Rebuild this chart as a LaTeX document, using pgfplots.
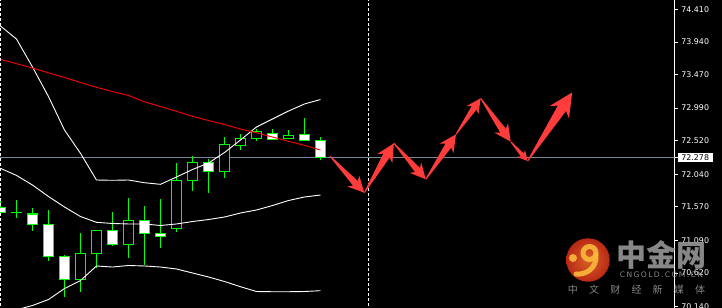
\documentclass[border=0pt]{standalone}
\usepackage{pgfplots}
\usepackage{pgfplotstable}
\pgfplotsset{compat=1.18}
\usetikzlibrary{decorations}
\usepackage{fontspec}
\setmainfont{DejaVu Sans}
\newfontfamily\cjk{Noto Sans CJK SC}
\newfontfamily\spaced[LetterSpace=18]{DejaVu Sans}

\definecolor{cgreen}{RGB}{0,255,0}
\definecolor{bidgray}{RGB}{119,136,153}
\definecolor{arrowred}{RGB}{255,60,60}
\definecolor{mared}{RGB}{255,0,0}
\definecolor{wmgray}{RGB}{150,150,150}

\pgfdeclaredecoration{fatarrow}{initial}{%
  \state{initial}[width=\pgfdecoratedpathlength-0.01pt, next state=final]{%
    \pgfmathsetlengthmacro{\arrL}{\pgfdecoratedpathlength}%
    \pgfmathsetlengthmacro{\arrH}{0.24*\arrL+4pt}%
    \pgfmathsetlengthmacro{\arrW}{0.11*\arrL+2.5pt}%
    \pgfmathsetlengthmacro{\arrS}{0.05*\arrL+0.8pt}%
    \pgfpathmoveto{\pgfpoint{0pt}{0.5pt}}%
    \pgfpathlineto{\pgfpoint{\arrL-0.8*\arrH}{\arrS}}%
    \pgfpathlineto{\pgfpoint{\arrL-\arrH}{\arrW}}%
    \pgfpathlineto{\pgfpoint{\arrL}{0pt}}%
    \pgfpathlineto{\pgfpoint{\arrL-\arrH}{-\arrW}}%
    \pgfpathlineto{\pgfpoint{\arrL-0.8*\arrH}{-\arrS}}%
    \pgfpathlineto{\pgfpoint{0pt}{-0.5pt}}%
    \pgfpathclose
  }%
  \state{final}{}%
}

% candles: k open high low close
\pgfplotstableread{
k open high low close
0 71.564 71.669 71.482 71.486
2 71.467 71.554 71.227 71.319
3 71.319 71.525 70.796 70.859
4 70.859 70.874 70.270 70.529
7 71.233 71.496 71.012 71.032
9 71.377 71.578 70.734 71.190
10 71.184 71.683 70.983 71.147
13 72.211 72.262 71.773 72.081
17 72.627 72.689 72.541 72.541
19 72.613 72.847 72.527 72.527
20 72.527 72.570 72.248 72.278
}\bear
\pgfplotstableread{
k open high low close
1 71.486 71.669 71.414 71.486
5 70.529 71.194 70.350 70.902
6 70.902 71.233 70.695 71.233
8 71.032 71.693 70.839 71.377
11 71.262 72.200 71.213 71.952
12 71.952 72.301 71.802 72.211
14 72.081 72.570 71.989 72.469
15 72.455 72.617 72.392 72.556
16 72.556 72.694 72.521 72.656
18 72.556 72.675 72.556 72.599
}\bull

\pgfplotsset{
  vbar/.style 2 args={draw=none, forget plot, error bars/.cd, y dir=plus, y explicit, error mark=none,
    error bar style={draw=#1, line width=#2, solid}},
  fatarrow/.style={draw=none, fill=arrowred, decorate, decoration={fatarrow}, forget plot},
}

\begin{document}
\begin{tikzpicture}
\useasboundingbox (0,0) rectangle (722bp,308bp);
\fill[black] (0,0) rectangle (722bp,308bp);
\begin{axis}[
  at={(0,0)}, anchor=south west,
  scale only axis, width=674.7bp, height=308bp,
  xmin=-0.03, xmax=42.14, ymin=70.116, ymax=74.544,
  axis x line=none,
  axis y line*=right,
  y axis line style={white, line width=1bp},
  xtick=\empty,
  ytick={70.14,70.62,71.09,71.57,72.04,72.52,72.99,73.47,73.94,74.41},
  yticklabels={70.140,70.620,71.090,71.570,72.040,72.520,72.990,73.470,73.940,74.410},
  tick style={white, line width=0.8bp},
  tick align=outside,
  major tick length=3bp,
  y tick label style={font=\fontsize{7.9bp}{9bp}\selectfont, text=white, anchor=west, inner xsep=3.5bp, inner ysep=1.5bp},
  extra y ticks={72.278},
  extra y tick labels={72.278},
  extra y tick style={y tick label style={fill=white, text=black}},
  clip=true,
]
% bid line
\addplot[bidgray, line width=1bp, forget plot] coordinates {(-1,72.278) (43,72.278)};

% wicks
\addplot[vbar={cgreen}{1.3bp}] table[x=k, y=low, y error expr=\thisrow{high}-\thisrow{low}] {\bear};
\addplot[vbar={cgreen}{1.3bp}] table[x=k, y=low, y error expr=\thisrow{high}-\thisrow{low}] {\bull};
% body outlines
\addplot[vbar={cgreen}{11.2bp}] table[x=k, y expr={min(\thisrow{open},\thisrow{close})-0.0093}, y error expr={abs(\thisrow{close}-\thisrow{open})+0.0186}] {\bear};
\addplot[vbar={cgreen}{11.2bp}] table[x=k, y expr={min(\thisrow{open},\thisrow{close})-0.0093}, y error expr={abs(\thisrow{close}-\thisrow{open})+0.0186}] {\bull};
% body fills
\addplot[vbar={white}{8.6bp}] table[x=k, y expr={min(\thisrow{open},\thisrow{close})+0.0093}, y error expr={max(abs(\thisrow{close}-\thisrow{open})-0.0186,0)}] {\bear};
\addplot[vbar={black}{8.6bp}] table[x=k, y expr={min(\thisrow{open},\thisrow{close})+0.0093}, y error expr={max(abs(\thisrow{close}-\thisrow{open})-0.0186,0)}] {\bull};

% Bollinger upper
\addplot[white, line width=0.9bp, forget plot] coordinates {
(0,74.170) (1,73.983) (2,73.581) (3,73.156) (4,72.675) (5,72.340) (6,71.956)
(7,71.952) (8,71.956) (9,71.917) (10,71.894) (11,71.999) (12,72.107) (13,72.200)
(14,72.351) (15,72.531) (16,72.718) (17,72.833) (18,72.948) (19,73.049) (20,73.113)};
% Bollinger middle
\addplot[white, line width=0.9bp, forget plot] coordinates {
(0,72.124) (1,72.022) (2,71.884) (3,71.719) (4,71.568) (5,71.431) (6,71.348)
(7,71.331) (8,71.324) (9,71.324) (10,71.302) (11,71.324) (12,71.359) (13,71.388)
(14,71.424) (15,71.482) (16,71.525) (17,71.589) (18,71.661) (19,71.712) (20,71.740)};
% Bollinger lower
\addplot[white, line width=0.9bp, forget plot] coordinates {
(0,70.070) (1,70.090) (2,70.152) (3,70.238) (4,70.396) (5,70.511) (6,70.720)
(7,70.705) (8,70.727) (9,70.720) (10,70.705) (11,70.677) (12,70.619) (13,70.562)
(14,70.497) (15,70.422) (16,70.353) (17,70.350) (18,70.350) (19,70.353) (20,70.365)};
% moving average
\addplot[mared, line width=0.9bp, forget plot] coordinates {
(0,73.691) (1,73.628) (2,73.566) (3,73.497) (4,73.430) (5,73.358) (6,73.289)
(7,73.228) (8,73.171) (9,73.080) (10,73.013) (11,72.944) (12,72.872) (13,72.811)
(14,72.754) (15,72.689) (16,72.635) (17,72.574) (18,72.512) (19,72.455) (20,72.387)};

% period separators
\addplot[white, line width=1bp, dash pattern=on 3bp off 2bp, forget plot] coordinates {(0,70) (0,75)};
\addplot[white, line width=1bp, dash pattern=on 3bp off 2bp, forget plot] coordinates {(23.01,70) (23.01,75)};

% forecast arrows
\addplot[fatarrow] coordinates {(20.59,72.301) (22.74,71.773)};
\addplot[fatarrow] coordinates {(22.74,71.773) (24.59,72.484)};
\addplot[fatarrow] coordinates {(24.59,72.484) (26.58,71.966)};
\addplot[fatarrow] coordinates {(26.58,71.966) (28.47,72.613)};
\addplot[fatarrow] coordinates {(28.47,72.613) (30.01,73.131)};
\addplot[fatarrow] coordinates {(30.01,73.131) (31.89,72.507)};
\addplot[fatarrow] coordinates {(31.89,72.507) (32.95,72.229)};
\addplot[fatarrow] coordinates {(32.95,72.229) (35.74,73.217)};
\end{axis}

% watermark
\begin{scope}[opacity=0.9]
\shade[inner color={rgb,255:red,240;green,110;blue,40}, outer color={rgb,255:red,205;green,45;blue,25}] (588bp,48bp) circle (21.7bp);
\draw[line width=5bp, color={rgb,255:red,250;green,185;blue,60}] (589.5bp,55bp) circle (6.5bp);
\draw[line width=5bp, line cap=round, color={rgb,255:red,250;green,185;blue,60}] (596bp,53bp) .. controls (597bp,40bp) and (586bp,33bp) .. (576bp,34bp);
\fill[color={rgb,255:red,250;green,185;blue,60}] (573bp,50bp) circle (4bp);
\end{scope}
\node[text=wmgray, text opacity=0.9, inner sep=0pt] at (661.7bp,53bp) {\cjk\bfseries\fontsize{30bp}{30bp}\selectfont 中金网};
\node[text=wmgray, text opacity=0.9, inner sep=0pt] at (661.5bp,33bp) {\spaced\fontsize{7.6bp}{8bp}\selectfont CNGOLD.COM.CN};
\node[text=wmgray, text opacity=0.9, inner sep=0pt] at (636.5bp,18bp) {\cjk\fontsize{10bp}{10bp}\selectfont 中\hspace{11.2bp}文\hspace{11.2bp}财\hspace{11.2bp}经\hspace{11.2bp}新\hspace{11.2bp}媒\hspace{11.2bp}体};
\end{tikzpicture}
\end{document}
